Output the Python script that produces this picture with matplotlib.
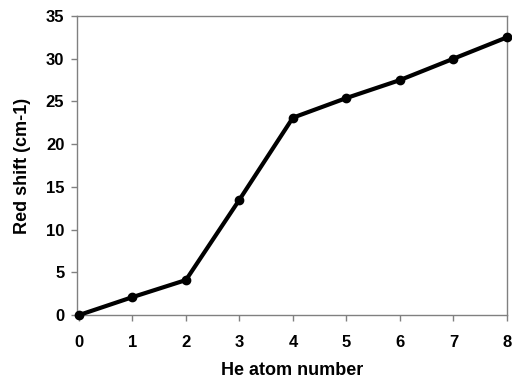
import matplotlib
matplotlib.use("Agg")
import matplotlib.pyplot as plt

# He atom number vs red shift
atoms = [0, 1, 2, 3, 4, 5, 6, 7, 8]
shift = [0.0, 2.1, 4.1, 13.5, 23.1, 25.4, 27.5, 30.0, 32.5]

plt.rcParams["font.family"] = ["Liberation Sans", "DejaVu Sans"]
plt.rcParams["font.weight"] = "bold"

fig = plt.figure(figsize=(5.12, 3.81), dpi=100)
ax = fig.add_axes([0.150, 0.173, 0.840, 0.785])

ax.plot(atoms, shift, color="black", linewidth=3, marker="o",
        markersize=6, clip_on=False, zorder=3)

ax.set_xlim(-0.04, 8)
ax.set_ylim(0, 35)
ax.set_xticks(range(0, 9))
ax.set_yticks(range(0, 36, 5))

for s in ax.spines.values():
    s.set_color("#808080")
    s.set_linewidth(1)

ax.tick_params(direction="out", length=4, width=1, color="#808080",
               labelsize=12)
ax.tick_params(axis="x", pad=10)
ax.tick_params(axis="y", pad=5)
for lab in ax.get_xticklabels() + ax.get_yticklabels():
    lab.set_fontweight("bold")

ax.set_xlabel("He atom number", fontsize=13, fontweight="bold", labelpad=9)
ax.set_ylabel("Red shift (cm-1)", fontsize=13, fontweight="bold", labelpad=11)

fig.savefig("out.png", dpi=100)
